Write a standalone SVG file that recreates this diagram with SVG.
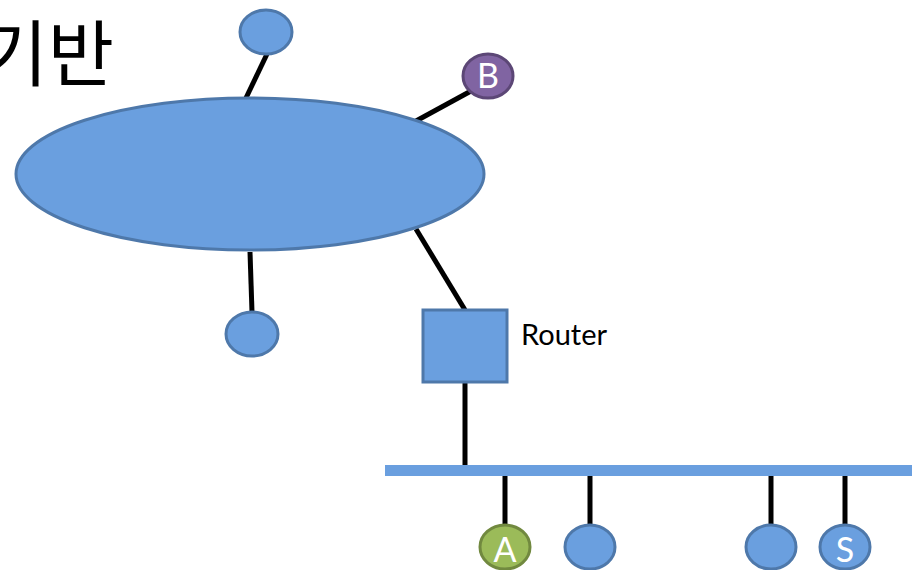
<svg xmlns="http://www.w3.org/2000/svg" width="912" height="570" viewBox="0 0 912 570">
<style>
.node{fill:#6A9FDF;stroke:#4E78AA;stroke-width:3}
.conn{stroke:#000;stroke-width:5;fill:none}
.lbl{font-family:"Lato","Open Sans","DejaVu Sans",sans-serif;font-size:34px;fill:#fff;text-anchor:middle}
</style>
<rect width="912" height="570" fill="#fff"/>
<text x="114" y="80" font-family="'Noto Sans CJK KR',sans-serif" font-size="72" fill="#000" text-anchor="end">기반</text>
<g id="connectors">
<line class="conn" x1="267" y1="54" x2="246" y2="98"/>
<line class="conn" x1="471" y1="91" x2="416" y2="121"/>
<line class="conn" x1="250" y1="252" x2="252" y2="312"/>
<line class="conn" x1="416" y1="229" x2="465" y2="310"/>
<line class="conn" x1="465" y1="383" x2="465" y2="465"/>
<line class="conn" x1="505" y1="471" x2="505" y2="524"/>
<line class="conn" x1="590" y1="471" x2="590" y2="524"/>
<line class="conn" x1="771" y1="471" x2="771" y2="524"/>
<line class="conn" x1="845" y1="471" x2="845" y2="524"/>
</g>
<g id="bus"><rect x="385" y="465" width="527" height="11" fill="#6A9FDF"/></g>
<g id="cloud"><ellipse class="node" cx="250" cy="174" rx="234" ry="76"/></g>
<g id="top"><ellipse class="node" cx="266" cy="32" rx="26" ry="22"/></g>
<g id="nodeB"><ellipse cx="488" cy="76" rx="25" ry="22" fill="#8064A2" stroke="#5C4776" stroke-width="3"/><text class="lbl" x="488" y="88">B</text></g>
<g id="bottomleft"><ellipse class="node" cx="252" cy="334" rx="26" ry="22"/></g>
<g id="router"><rect class="node" x="423" y="310" width="84" height="72"/><text x="521" y="345" font-family="Lato,'Open Sans',sans-serif" font-size="29" fill="#000">Router</text></g>
<g id="nodeA"><ellipse cx="505" cy="547" rx="25" ry="22" fill="#9BBB59" stroke="#71893F" stroke-width="3"/><text class="lbl" x="505" y="562">A</text></g>
<g id="n2"><ellipse class="node" cx="590" cy="547" rx="25" ry="22"/></g>
<g id="n3"><ellipse class="node" cx="771" cy="547" rx="25" ry="22"/></g>
<g id="nodeS"><ellipse class="node" cx="845" cy="547" rx="25" ry="22"/><text class="lbl" x="845" y="562">S</text></g>
</svg>
